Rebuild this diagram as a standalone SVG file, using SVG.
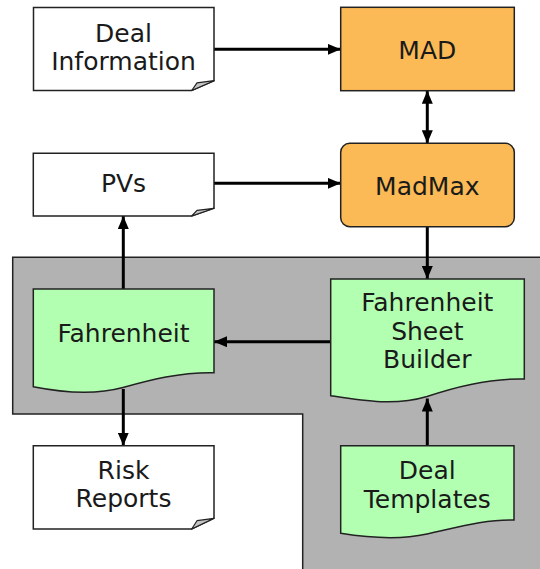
<svg xmlns="http://www.w3.org/2000/svg" width="540" height="569" viewBox="0 0 540 569">
<style>
.t{font-family:"DejaVu Sans",Verdana,sans-serif;font-size:25px;fill:#1a1a1a;text-anchor:middle}
.box{stroke:#222;stroke-width:1.5}
.w{fill:#fff}
.o{fill:#FBBA55}
.g{fill:#B2FFB2}
.fold{fill:#c4c4c4;stroke:#222;stroke-width:1.2;stroke-linejoin:round}
.c{stroke:#000;stroke-width:3;fill:none}
</style>
<defs>
<marker id="ah" markerWidth="13" markerHeight="11" refX="13" refY="5.5" orient="auto" markerUnits="userSpaceOnUse">
<path d="M0,0 L13,5.5 L0,11 Z" fill="#000"/>
</marker>
<marker id="as" markerWidth="13" markerHeight="11" refX="0" refY="5.5" orient="auto" markerUnits="userSpaceOnUse">
<path d="M13,0 L0,5.5 L13,11 Z" fill="#000"/>
</marker>
</defs>
<path id="region" d="M12.7,257.3 L541,257.3 L541,570 L302.7,570 L302.7,414 L12.7,414 Z" fill="#B2B2B2" stroke="#222" stroke-width="1.5"/>
<g id="connectors">
<line class="c" x1="214" y1="49.3" x2="340.7" y2="49.3" marker-end="url(#ah)"/>
<line class="c" x1="427.3" y1="90.7" x2="427.3" y2="143.3" marker-start="url(#as)" marker-end="url(#ah)"/>
<line class="c" x1="214" y1="183.3" x2="340.7" y2="183.3" marker-end="url(#ah)"/>
<line class="c" x1="427.3" y1="226.7" x2="427.3" y2="279" marker-end="url(#ah)"/>
<line class="c" x1="123.3" y1="289" x2="123.3" y2="216" marker-end="url(#ah)"/>
<line class="c" x1="330.7" y1="341.7" x2="214" y2="341.7" marker-end="url(#ah)"/>
<line class="c" x1="123.3" y1="389" x2="123.3" y2="445.7" marker-end="url(#ah)"/>
<line class="c" x1="427.3" y1="445.7" x2="427.3" y2="398.5" marker-end="url(#ah)"/>
</g>
<g id="deal-information">
<path class="box w" d="M33.5,7.5 H214 V80.7 L191.7,90.5 H33.5 Z"/>
<path class="fold" d="M191.7,90.5 L197,82.8 L214,80.7 Z"/>
<text class="t" x="123.5" y="41.7">Deal</text>
<text class="t" x="123.5" y="70">Information</text>
</g>
<g id="mad">
<rect class="box o" x="340.7" y="7.3" width="173.6" height="83.4"/>
<text class="t" x="427.3" y="59">MAD</text>
</g>
<g id="pvs">
<path class="box w" d="M33.3,153.3 H214 V208.3 L191.7,216 H33.3 Z"/>
<path class="fold" d="M191.7,216 L197,210.3 L214,208.3 Z"/>
<text class="t" x="123.5" y="191.7">PVs</text>
</g>
<g id="madmax">
<rect class="box o" x="340.7" y="143.3" width="173.6" height="83.4" rx="9" ry="9"/>
<text class="t" x="427.3" y="195">MadMax</text>
</g>
<g id="fahrenheit">
<path class="box g" d="M33.3,289 H214 V372.7 C180,372 150,380 123,387.5 C95,395 65,393 33.3,386.7 Z"/>
<text class="t" x="123.5" y="341.7">Fahrenheit</text>
</g>
<g id="fahrenheit-sheet-builder">
<path class="box g" d="M330.7,279 H524.3 V379 C490,378 455,387 427,396.5 C395,406 365,401 330.7,395.7 Z"/>
<text class="t" x="427.3" y="310.7">Fahrenheit</text>
<text class="t" x="427.3" y="340">Sheet</text>
<text class="t" x="427.3" y="368.3">Builder</text>
</g>
<g id="risk-reports">
<path class="box w" d="M33.3,445.7 H214 V518.3 L191.7,529 H33.3 Z"/>
<path class="fold" d="M191.7,529 L197,520.7 L214,518.3 Z"/>
<text class="t" x="123.5" y="479">Risk</text>
<text class="t" x="123.5" y="507.3">Reports</text>
</g>
<g id="deal-templates">
<path class="box g" d="M340.7,445.7 H514 V520 C485,519 455,528 427,534 C400,540 370,538 340.7,533.3 Z"/>
<text class="t" x="427.3" y="479.3">Deal</text>
<text class="t" x="427.3" y="508.3">Templates</text>
</g>
</svg>
